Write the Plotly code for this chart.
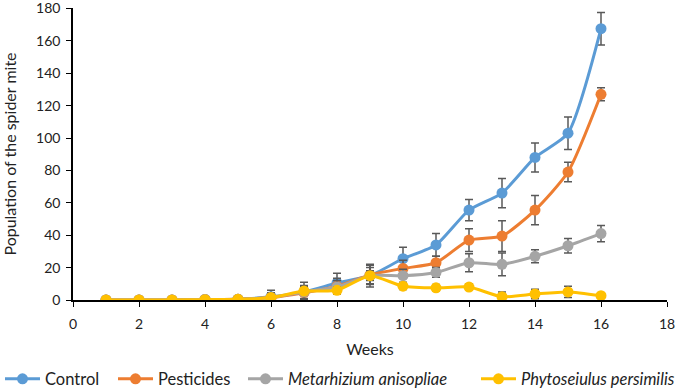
import plotly.graph_objects as go

weeks = list(range(1, 17))
control = [0, 0, 0, 0.3, 0.5, 2, 5, 10.5, 15, 25.5, 34, 55.5, 66, 88, 103, 167.5]
control_err = [0, 0, 0, 0.5, 1.5, 4, 6, 6, 7, 7, 7, 6.5, 9, 9, 10, 10]
pesticides = [0, 0, 0, 0.3, 0.5, 1.5, 4.5, 8.5, 15.5, 19.5, 23, 37, 39.5, 55.5, 79, 127]
pesticides_err = [0, 0, 0, 0.5, 1, 3, 4, 5, 6, 5, 4, 7, 9.5, 9, 6, 4]
metarhizium = [0, 0, 0, 0.3, 0.5, 1.5, 5, 8, 15, 15, 17, 23, 22, 27, 33.5, 41]
metarhizium_err = [0, 0, 0, 0.5, 1, 3, 4, 4, 5, 4, 3, 5.5, 7, 4, 4.5, 5]
phyto = [0, 0, 0, 0.2, 0.4, 1.5, 5.5, 6, 15, 8.5, 7.5, 8, 2, 3.7, 5, 2.7]
phyto_err = [0, 0, 0, 0.3, 0.5, 1, 2, 2, 3, 2, 2, 2, 3, 3, 3.5, 1]

series = [
    ("Control", control, control_err, "#5B9BD5"),
    ("Pesticides", pesticides, pesticides_err, "#ED7D31"),
    ("<i>Metarhizium anisopliae</i>", metarhizium, metarhizium_err, "#A5A5A5"),
    ("<i>Phytoseiulus persimilis</i>", phyto, phyto_err, "#FFC000"),
]
legend_ids = ["legend", "legend2", "legend3", "legend4"]
legend_x_px = [-4, 113, 243, 476]

fig = go.Figure()
for (name, vals, err, col), lid in zip(series, legend_ids):
    fig.add_trace(go.Scatter(
        x=weeks, y=vals, name=name, mode="lines+markers", legend=lid,
        line=dict(color=col, width=3, shape="spline", smoothing=0.6),
        marker=dict(color=col, size=11),
        error_y=dict(type="data", array=err, visible=True, color="#595959",
                     thickness=1.5, width=4),
    ))

font = "Lato, Liberation Sans, sans-serif"
W, H = 685, 390
legends = {}
for lid, px in zip(legend_ids, legend_x_px):
    legends[lid] = dict(orientation="h", xref="container", yref="container",
                        x=px / W, xanchor="left", y=0.028, yanchor="middle",
                        font=dict(size=16.5), itemwidth=35,
                        bgcolor="rgba(0,0,0,0)")

fig.update_layout(
    width=W, height=H,
    margin=dict(l=73, r=18, t=8, b=90, autoexpand=False),
    paper_bgcolor="white", plot_bgcolor="white",
    font=dict(family=font, size=14, color="#222"),
    showlegend=True,
    xaxis=dict(range=[0, 18], dtick=2, tick0=0, showgrid=False, zeroline=False,
               showline=True, linecolor="black", linewidth=1.5,
               ticks="outside", ticklen=5, tickcolor="black", automargin=False,
               ticklabelstandoff=5, ticklabeloverflow="allow",
               title=dict(text="Weeks", font=dict(size=16), standoff=13)),
    yaxis=dict(range=[0, 180.3], dtick=20, showgrid=False, zeroline=False,
               showline=True, linecolor="black", linewidth=1.5,
               ticks="outside", ticklen=5, tickcolor="black", automargin=False,
               ticklabelstandoff=3, ticklabeloverflow="allow",
               title=dict(text="Population of the spider mite", font=dict(size=16), standoff=18)),
    **legends,
)

fig.write_html("out.html", config={"displayModeBar": False},
               post_script="document.body.style.margin='0';")
